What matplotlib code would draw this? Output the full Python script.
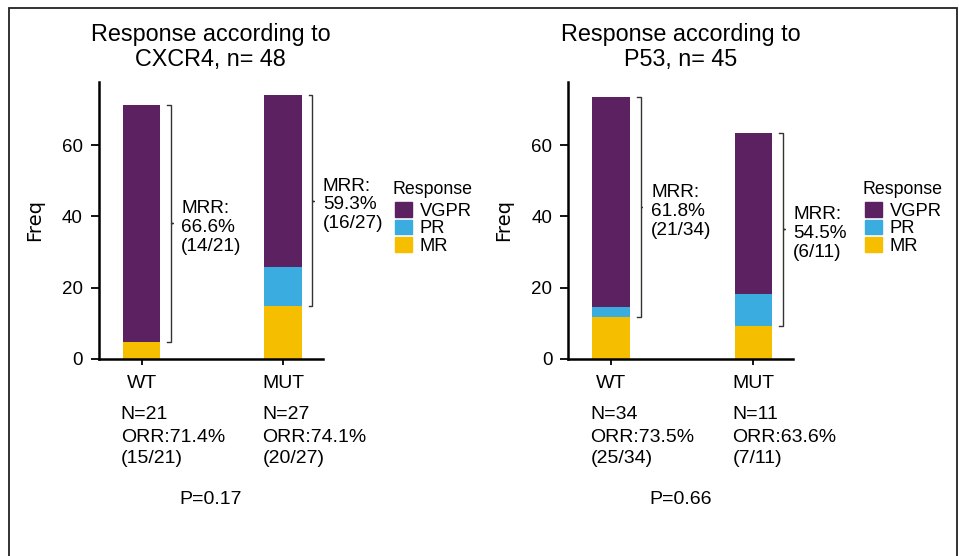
import matplotlib
matplotlib.use('Agg')
import matplotlib.pyplot as plt
from matplotlib import font_manager
from matplotlib.patches import Patch, Rectangle
import numpy as np

plt.rcParams['font.family'] = ['Liberation Sans', 'DejaVu Sans']

installed = {f.name for f in font_manager.fontManager.ttflist}
narrow = 'Liberation Sans Narrow' if 'Liberation Sans Narrow' in installed else 'DejaVu Sans'

groups = ['WT', 'MUT']
responses = ['VGPR', 'PR', 'MR']
colors = {'VGPR': '#5c2160', 'PR': '#3aace0', 'MR': '#f5bf00'}

# percent of patients per response, stacked MR -> PR -> VGPR
cxcr4_mr = [4.8, 14.8]
cxcr4_pr = [0.0, 11.1]
cxcr4_vgpr = [66.6, 48.2]

p53_mr = [11.7, 9.1]
p53_pr = [2.9, 9.1]
p53_vgpr = [58.9, 45.4]

cxcr4_mrr = ['66.6%\n(14/21)', '59.3%\n(16/27)']
p53_mrr = ['61.8%\n(21/34)', '54.5%\n(6/11)']

cxcr4_n = ['N=21', 'N=27']
cxcr4_orr = ['ORR:71.4%', 'ORR:74.1%']
cxcr4_frac = ['(15/21)', '(20/27)']
p53_n = ['N=34', 'N=11']
p53_orr = ['ORR:73.5%', 'ORR:63.6%']
p53_frac = ['(25/34)', '(7/11)']

titles = ['Response according to\nCXCR4, n= 48', 'Response according to\nP53, n= 45']
pvals = ['P=0.17', 'P=0.66']


def panel(ax, mr, pr, vgpr, mrr, n_lab, orr_lab, frac_lab, title, pval):
    x = np.arange(len(groups))
    w = 0.266
    mr = np.array(mr)
    pr = np.array(pr)
    vgpr = np.array(vgpr)
    ax.bar(x, mr, w, color=colors['MR'])
    ax.bar(x, pr, w, bottom=mr, color=colors['PR'])
    ax.bar(x, vgpr, w, bottom=mr + pr, color=colors['VGPR'])

    # brace spanning PR + VGPR, with MRR text beside it
    for xi, lo, hi, lab in zip(x, mr, mr + pr + vgpr, mrr):
        xv = xi + 0.205
        mid = (lo + hi) / 2
        ax.plot([xv - 0.025, xv, xv, xv + 0.014, xv, xv, xv - 0.025],
                [hi, hi, mid, mid, mid, lo, lo],
                color='#333333', lw=1.0, solid_joinstyle='miter')
        ax.text(xi + 0.28, mid - 1.2, 'MRR:\n' + lab, ha='left', va='center',
                fontsize=13.7, linespacing=1.13)

    ax.set_xlim(-0.303, 1.28)
    ax.set_ylim(0, 77.9)
    ax.set_yticks([0, 20, 40, 60])
    ax.set_xticks(x)
    ax.set_xticklabels(groups, fontsize=14)
    ax.tick_params(axis='y', labelsize=13.5, length=5.5, width=1.3, pad=6)
    ax.tick_params(axis='x', length=4.5, width=1.3, pad=7)
    for s in ['top', 'right']:
        ax.spines[s].set_visible(False)
    for s in ['left', 'bottom']:
        ax.spines[s].set_linewidth(1.8)
    ax.set_ylabel('Freq', family=[narrow, 'DejaVu Sans'], fontsize=14,
                  fontweight='medium')
    ax.yaxis.set_label_coords(-0.244, 0.5)

    tr = ax.get_xaxis_transform()
    for xi, a, b, c in zip(x, n_lab, orr_lab, frac_lab):
        for yy, s in zip([-0.218, -0.300, -0.378], [a, b, c]):
            ax.text(xi - 0.147, yy, s, transform=tr, ha='left',
                    va='baseline', fontsize=14)
    ax.text(0.5, -0.51, pval, transform=ax.transAxes, ha='center',
            va='center', fontsize=14)
    ax.text(0.5, 1.04, title, transform=ax.transAxes, ha='center',
            va='bottom', fontsize=16.8, linespacing=1.1)


fig = plt.figure(figsize=(9.59, 5.56), dpi=100)
ax1 = fig.add_axes([0.1029, 0.3549, 0.2339, 0.4982])
ax2 = fig.add_axes([0.5926, 0.3549, 0.2346, 0.4982])

panel(ax1, cxcr4_mr, cxcr4_pr, cxcr4_vgpr, cxcr4_mrr,
      cxcr4_n, cxcr4_orr, cxcr4_frac, titles[0], pvals[0])
panel(ax2, p53_mr, p53_pr, p53_vgpr, p53_mrr,
      p53_n, p53_orr, p53_frac, titles[1], pvals[1])

# legend: title drawn on its own so the gap above the keys can be set
handles = [Patch(color=colors[r]) for r in responses]
for left in [393 / 959, 863 / 959]:
    fig.text(left, 1 - 189 / 556, 'Response', ha='left', va='center',
             fontsize=12.8)
    fig.legend(handles, responses, loc='upper left',
               bbox_to_anchor=(left + 2 / 959, 1 - 202 / 556), frameon=False,
               fontsize=13.2, handlelength=0.9, handleheight=0.85,
               handletextpad=0.45, labelspacing=0.0, borderpad=0,
               borderaxespad=0)

# outer frame, open at the bottom
fig.patches.append(Rectangle((9 / 959, -0.1), 948 / 959, 1.1 - 7.5 / 556,
                             transform=fig.transFigure, fill=False,
                             lw=1.3, ec='#222222'))

fig.savefig('out.png', dpi=100)
